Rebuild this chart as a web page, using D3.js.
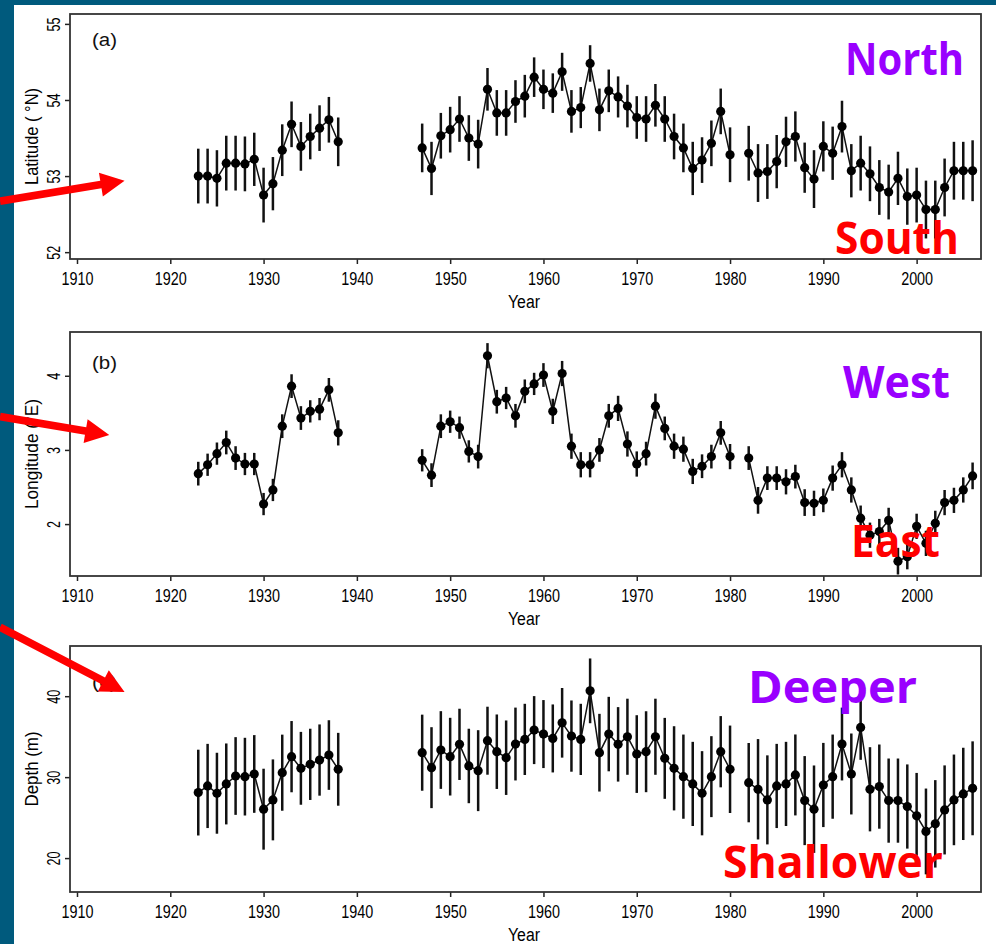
<!DOCTYPE html>
<html>
<head>
<meta charset="utf-8">
<script src="https://cdn.jsdelivr.net/npm/d3@7"></script>
<style>
  html, body { margin: 0; padding: 0; background: #005a7d; }
  svg { display: block; }
</style>
</head>
<body>
<script>
// ---------------- DATA ----------------
const years = [1923,1924,1925,1926,1927,1928,1929,1930,1931,1932,1933,1934,1935,1936,1937,1938,
  1947,1948,1949,1950,1951,1952,1953,1954,1955,1956,1957,1958,1959,1960,1961,1962,1963,1964,1965,1966,1967,1968,1969,1970,1971,1972,1973,1974,1975,1976,1977,1978,1979,1980,
  1982,1983,1984,1985,1986,1987,1988,1989,1990,1991,1992,1993,1994,1995,1996,1997,1998,1999,2000,2001,2002,2003,2004,2005,2006];

const latitude = [53.00,53.00,52.97,53.17,53.17,53.16,53.22,52.75,52.90,53.34,53.68,53.39,53.52,53.63,53.74,53.45,
  53.37,53.10,53.53,53.61,53.75,53.50,53.42,54.14,53.83,53.83,53.98,54.05,54.30,54.14,54.09,54.37,53.85,53.90,54.48,53.87,54.12,54.04,53.92,53.77,53.75,53.93,53.75,53.52,53.37,53.10,53.21,53.43,53.85,53.28,
  53.30,53.04,53.06,53.19,53.45,53.52,53.11,52.96,53.39,53.30,53.65,53.07,53.17,53.03,52.85,52.79,52.97,52.73,52.75,52.56,52.56,52.85,53.07,53.07,53.07];
const latitudeErr = [0.36,0.36,0.37,0.36,0.36,0.36,0.35,0.36,0.35,0.34,0.30,0.32,0.30,0.30,0.30,0.32,
  0.32,0.35,0.30,0.30,0.30,0.30,0.32,0.28,0.30,0.30,0.28,0.28,0.26,0.26,0.26,0.25,0.28,0.27,0.24,0.28,0.28,0.27,0.28,0.28,0.30,0.28,0.30,0.30,0.32,0.35,0.30,0.30,0.30,0.36,
  0.36,0.38,0.36,0.35,0.33,0.33,0.33,0.38,0.33,0.35,0.34,0.35,0.36,0.36,0.36,0.36,0.35,0.37,0.36,0.38,0.38,0.38,0.38,0.38,0.40];

const longitude = [2.68,2.80,2.95,3.10,2.89,2.81,2.81,2.27,2.46,3.32,3.86,3.43,3.52,3.55,3.81,3.23,
  2.86,2.66,3.32,3.38,3.30,2.98,2.91,4.27,3.65,3.70,3.46,3.79,3.89,4.01,3.52,4.03,3.05,2.80,2.80,3.00,3.46,3.56,3.08,2.81,2.95,3.59,3.29,3.05,3.01,2.71,2.78,2.91,3.23,2.91,
  2.89,2.32,2.62,2.62,2.57,2.64,2.29,2.28,2.32,2.62,2.80,2.46,2.08,1.85,1.90,2.05,1.50,1.56,1.97,1.74,2.01,2.29,2.32,2.46,2.65];
const longitudeErr = [0.16,0.15,0.15,0.16,0.16,0.15,0.15,0.15,0.15,0.16,0.16,0.16,0.15,0.15,0.16,0.17,
  0.15,0.16,0.16,0.15,0.15,0.15,0.16,0.17,0.16,0.15,0.16,0.16,0.15,0.16,0.17,0.17,0.17,0.17,0.17,0.16,0.16,0.17,0.17,0.17,0.16,0.17,0.16,0.17,0.17,0.17,0.16,0.16,0.16,0.17,
  0.16,0.18,0.16,0.16,0.17,0.16,0.18,0.17,0.16,0.17,0.17,0.17,0.17,0.17,0.17,0.17,0.18,0.17,0.17,0.17,0.17,0.17,0.17,0.17,0.18];

const depth = [28.09,28.91,28.01,29.16,30.14,30.06,30.39,26.04,27.19,30.55,32.53,31.09,31.58,32.11,32.73,30.97,
  33.02,31.17,33.35,32.53,34.05,31.38,30.80,34.50,33.14,32.40,34.09,34.66,35.81,35.32,34.78,36.71,35.07,34.66,40.66,33.02,35.32,34.05,34.99,32.85,33.14,34.99,32.32,31.09,30.06,29.16,28.01,30.06,33.14,30.97,
  29.32,28.50,27.19,28.91,29.16,30.27,27.10,26.04,29.03,30.06,34.09,30.39,36.14,28.50,28.83,27.10,27.10,26.37,25.22,23.29,24.23,25.95,27.19,27.93,28.62];
const depthErr = [5.3,5.2,5.0,5.0,4.8,4.8,4.8,5.0,5.0,4.7,4.4,4.5,4.4,4.4,4.3,4.5,
  4.7,5.0,4.8,4.8,4.4,4.6,5.0,4.2,4.6,4.6,4.5,4.4,4.2,4.2,4.2,4.3,4.4,4.4,4.0,4.8,4.6,4.6,4.7,4.8,5.0,4.7,5.0,5.2,5.2,5.2,5.2,5.0,4.4,5.4,
  4.9,6.2,5.5,5.2,5.2,5.0,5.5,5.4,5.2,5.2,4.5,5.0,4.0,5.2,5.2,5.2,5.2,5.2,5.3,5.3,5.4,5.5,5.6,5.7,5.8];

const xTicks = [1910,1920,1930,1940,1950,1960,1970,1980,1990,2000];
const latTicks = [52,53,54,55];
const lonTicks = [2,3,4];
const depthTicks = [20,30,40];

const panelLabels = ["(a)","(b)","(c)"];
const axisTitles = ["Latitude ( \u00B0N)","Longitude (\u00B0E)","Depth (m)"];
const upperWords = ["North","West","Deeper"];
const lowerWords = ["South","East","Shallower"];

// ---------------- LAYOUT ----------------
const W = 996, H = 944;
const svg = d3.select("body").append("svg").attr("width", W).attr("height", H);

svg.append("rect").attr("x", 0).attr("y", 0).attr("width", W).attr("height", H).attr("fill", "#005a7d");
svg.append("rect").attr("x", 14).attr("y", 5).attr("width", W - 14).attr("height", H - 5).attr("fill", "#ffffff");

const x = d3.scaleLinear().domain([1909.25, 2006.9]).range([70, 981]);

const panels = [
  { values: latitude, err: latitudeErr, domain: [51.91, 55.13], ticks: latTicks, top: 14, bottom: 259, labelY: 46, titleLen: 97,
    upper: { x: 845, y: 75, len: 119 }, lower: { x: 835, y: 254, len: 124 },
    arrow: { from: [1901.75, 52.67], to: [1915.1, 52.94] } },
  { values: longitude, err: longitudeErr, domain: [1.30, 4.59], ticks: lonTicks, top: 332, bottom: 576, labelY: 369, titleLen: 110,
    upper: { x: 843, y: 398, len: 107 }, lower: { x: 851, y: 557, len: 89 },
    arrow: { from: [1901.75, 3.45], to: [1913.46, 3.20] } },
  { values: depth, err: depthErr, domain: [15.81, 46.2], ticks: depthTicks, top: 646, bottom: 892, labelY: 688, titleLen: 75,
    upper: { x: 748, y: 703, len: 169 }, lower: { x: 723, y: 878, len: 220 },
    arrow: { from: [1901.75, 48.53], to: [1915.1, 40.53] } }
];

const tickFont = "'Liberation Sans', Arial, sans-serif";
const bigFont = "'Open Sans', 'Noto Sans', sans-serif";
const arrowLayer = [];

panels.forEach((p, i) => {
  const y = d3.scaleLinear().domain(p.domain).range([p.bottom, p.top]);
  const g = svg.append("g");

  // x axis
  const xa = g.append("g").attr("transform", `translate(0,${p.bottom})`)
    .call(d3.axisBottom(x).tickValues(xTicks).tickFormat(d3.format("d")).tickSize(5).tickSizeOuter(0).tickPadding(8));
  xa.select(".domain").remove();
  xa.selectAll(".tick line").attr("stroke", "#222").attr("stroke-width", 1.5);
  xa.selectAll(".tick text").attr("font-family", tickFont).attr("font-size", 19).attr("fill", "#000")
    .attr("textLength", 32).attr("lengthAdjust", "spacingAndGlyphs");

  // y axis
  const ya = g.append("g").attr("transform", `translate(70,0)`)
    .call(d3.axisLeft(y).tickValues(p.ticks).tickFormat(d3.format("d")).tickSize(5).tickSizeOuter(0));
  ya.select(".domain").remove();
  ya.selectAll(".tick line").attr("stroke", "#222").attr("stroke-width", 1.5);
  ya.selectAll(".tick text").attr("font-family", tickFont).attr("font-size", 19).attr("fill", "#000")
    .attr("x", null).attr("dy", "0.36em").attr("text-anchor", "middle")
    .attr("transform", "translate(-17,0) rotate(-90)")
    .attr("textLength", d => String(d).length * 7).attr("lengthAdjust", "spacingAndGlyphs");

  // box
  g.append("rect").attr("x", 70).attr("y", p.top).attr("width", 981 - 70).attr("height", p.bottom - p.top)
    .attr("fill", "none").attr("stroke", "#333").attr("stroke-width", 1.8);

  // titles
  g.append("text").attr("x", 524).attr("y", p.bottom + 49).attr("text-anchor", "middle")
    .attr("font-family", tickFont).attr("font-size", 18).attr("fill", "#000")
    .attr("textLength", 32).attr("lengthAdjust", "spacingAndGlyphs").text("Year");
  g.append("text").attr("transform", `translate(38,${(p.top + p.bottom) / 2}) rotate(-90)`).attr("text-anchor", "middle")
    .attr("font-family", tickFont).attr("font-size", 18).attr("fill", "#000")
    .attr("textLength", p.titleLen).attr("lengthAdjust", "spacingAndGlyphs").text(axisTitles[i]);
  g.append("text").attr("x", 92).attr("y", p.labelY).attr("font-family", tickFont).attr("font-size", 18)
    .attr("fill", "#111").attr("textLength", 25).attr("lengthAdjust", "spacingAndGlyphs").text(panelLabels[i]);

  // data
  const pts = years.map((yr, k) => ({ yr, v: p.values[k], e: p.err[k] }));
  const segments = [];
  pts.forEach((d, k) => {
    if (k === 0 || d.yr - pts[k - 1].yr > 1) segments.push([]);
    segments[segments.length - 1].push(d);
  });

  const line = d3.line().x(d => x(d.yr)).y(d => y(d.v));
  g.append("g").selectAll("line").data(pts).join("line")
    .attr("x1", d => x(d.yr)).attr("x2", d => x(d.yr))
    .attr("y1", d => y(d.v - d.e)).attr("y2", d => y(d.v + d.e))
    .attr("stroke", "#111").attr("stroke-width", 2.5);
  g.append("g").selectAll("path").data(segments).join("path")
    .attr("d", line).attr("fill", "none").attr("stroke", "#111").attr("stroke-width", 1.5);
  g.append("g").selectAll("circle").data(pts).join("circle")
    .attr("cx", d => x(d.yr)).attr("cy", d => y(d.v)).attr("r", 4.6).attr("fill", "#000");

  // words
  g.append("text").attr("x", p.upper.x).attr("y", p.upper.y).attr("font-family", bigFont).attr("font-weight", 700)
    .attr("font-size", 45).attr("fill", "#9900ff").attr("textLength", p.upper.len).attr("lengthAdjust", "spacingAndGlyphs")
    .text(upperWords[i]);
  g.append("text").attr("x", p.lower.x).attr("y", p.lower.y).attr("font-family", bigFont).attr("font-weight", 700)
    .attr("font-size", 45).attr("fill", "#ff0000").attr("textLength", p.lower.len).attr("lengthAdjust", "spacingAndGlyphs")
    .text(lowerWords[i]);

  arrowLayer.push({ a: [x(p.arrow.from[0]), y(p.arrow.from[1])], b: [x(p.arrow.to[0]), y(p.arrow.to[1])] });
});

// arrows
function arrowPath(a, b) {
  const dx = b[0] - a[0], dy = b[1] - a[1];
  const L = Math.hypot(dx, dy), ux = dx / L, uy = dy / L, nx = -uy, ny = ux;
  const sw = 3.8, hl = 24, hw = 12;
  const bx = b[0] - ux * hl, by = b[1] - uy * hl;
  const pts = [
    [a[0] + nx * sw, a[1] + ny * sw], [bx + nx * sw, by + ny * sw], [bx + nx * hw, by + ny * hw],
    b, [bx - nx * hw, by - ny * hw], [bx - nx * sw, by - ny * sw], [a[0] - nx * sw, a[1] - ny * sw]
  ];
  return "M" + pts.map(q => q.join(",")).join("L") + "Z";
}
svg.append("g").selectAll("path").data(arrowLayer).join("path")
  .attr("d", d => arrowPath(d.a, d.b)).attr("fill", "#ff0000");
</script>
</body>
</html>
